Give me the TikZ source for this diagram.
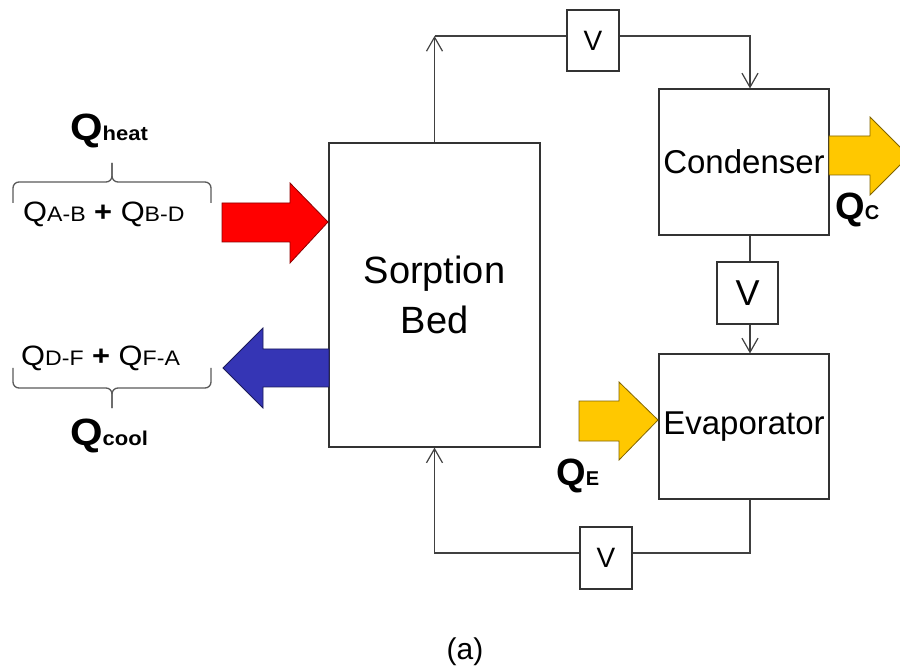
\documentclass[tikz,border=0pt]{standalone}
\usepackage{graphicx}
\usepackage{fontspec}
\setmainfont{Liberation Sans}
\usetikzlibrary{arrows.meta}
\definecolor{linec}{HTML}{404040}
\definecolor{boxc}{HTML}{333333}
\definecolor{bracec}{HTML}{5A5A5A}
\definecolor{heatred}{HTML}{FF0000}
\definecolor{coolblue}{HTML}{3535B5}
\definecolor{qyellow}{HTML}{FFC800}
\newcommand{\mysub}[1]{{\fontsize{21}{21}\selectfont #1}}
\newcommand{\bigsub}[1]{{\fontsize{20}{20}\selectfont\bfseries #1}}
\begin{document}
\begin{tikzpicture}[x=1pt,y=-1pt,
  unit/.style={draw=boxc, line width=1.2pt, fill=white, inner sep=0pt, font=\fontsize{33}{40}\selectfont},
  valve/.style={draw=boxc, line width=1.2pt, fill=white, inner sep=0pt, font=\fontsize{28}{32}\selectfont},
  pipe/.style={draw=linec, line width=1.2pt},
  flow/.style={pipe, -{Straight Barb[length=14pt,width=16pt,line width=1.2pt]}},
  blockarrow/.style={line width=0.8pt, line join=miter},
  brace/.style={draw=bracec, line width=1.3pt, rounded corners=6pt},
  lbl/.style={anchor=base west, inner sep=0pt}]
\useasboundingbox (0,0) rectangle (900,668);
\clip (0,0) rectangle (900,668);
\fill[white] (0,0) rectangle (900,668);

% units
\node[unit, minimum width=211pt, minimum height=304pt, align=center,
      font=\fontsize{38}{50}\selectfont] (bed) at (434.5,295) {Sorption\\Bed};
\node[unit, minimum width=170pt, minimum height=146pt] (cond) at (744,162) {Condenser};
\node[unit, minimum width=170pt, minimum height=145pt] (evap) at (744,426.5) {Evaporator};
\node[valve, minimum width=52pt, minimum height=61pt] (vtop) at (593,40.5) {V};
\node[valve, minimum width=61pt, minimum height=62pt, font=\fontsize{36}{40}\selectfont] (vmid) at (747.5,293) {V};
\node[valve, minimum width=52pt, minimum height=62pt] (vbot) at (606,558) {V};

% pipes
\coordinate (lx) at (750,0);
\coordinate (c1) at (434.5,36);
\coordinate (c2) at (434.5,553);
\draw[flow] (bed.north) -- (c1);
\draw[pipe] (c1) -- (c1 -| vtop.west);
\draw[flow] (c1 -| vtop.east) -| (cond.north -| lx);
\draw[pipe] (cond.south -| lx) -- (vmid.north -| lx);
\draw[flow] (vmid.south -| lx) -- (evap.north -| lx);
\draw[pipe] (evap.south -| lx) |- (c2 -| vbot.east);
\draw[flow] (c2 -| vbot.west) -| (bed.south);

% block arrows
\draw[blockarrow, fill=heatred, draw=heatred!55!black]
  (222,203) -- (290,203) -- (290,183) -- (328,222) -- (290,263) -- (290,242) -- (222,242) -- cycle;
\draw[blockarrow, fill=coolblue, draw=coolblue!50!black]
  (329,349) -- (263,349) -- (263,328) -- (223,368) -- (263,408) -- (263,387) -- (329,387) -- cycle;
\draw[blockarrow, fill=qyellow, draw=qyellow!50!black]
  (829,136) -- (870,136) -- (870,117) -- (909,156) -- (870,195) -- (870,175) -- (829,175) -- cycle;
\draw[blockarrow, fill=qyellow, draw=qyellow!50!black]
  (579,401) -- (619,401) -- (619,382) -- (658,420) -- (619,460) -- (619,441) -- (579,441) -- cycle;

% braces
\draw[brace] (13,203) |- (112,182) -- (112,163);
\draw[brace] (211,203) |- (112,182) -- (112,163);
\draw[brace] (13,368) |- (112,388) -- (112,408);
\draw[brace] (211,368) |- (112,388) -- (112,408);

% labels
\node[lbl] (qheat) at (70,141) {\scalebox{1.1}[1]{\fontsize{38}{38}\selectfont\bfseries Q\bigsub{heat}}};
\node[lbl] (qab) at (23,222) {\scalebox{1.1}[1]{\fontsize{28}{28}\selectfont Q\mysub{A-B} {\bfseries +} Q\mysub{B-D}}};
\node[lbl] (qdf) at (21,366) {\scalebox{1.1}[1]{\fontsize{28}{28}\selectfont Q\mysub{D-F} {\bfseries +} Q\mysub{F-A}}};
\node[lbl] (qcool) at (70,445) {\scalebox{1.1}[1]{\fontsize{38}{38}\selectfont\bfseries Q\bigsub{cool}}};
\node[lbl] (qc) at (835,220) {\fontsize{38}{38}\selectfont\bfseries Q\bigsub{C}};
\node[lbl] (qe) at (556,485) {\fontsize{38}{38}\selectfont\bfseries Q\bigsub{E}};
\node[inner sep=0pt, font=\fontsize{30}{34}\selectfont] (cap) at (465,652) {(a)};
\end{tikzpicture}
\end{document}
